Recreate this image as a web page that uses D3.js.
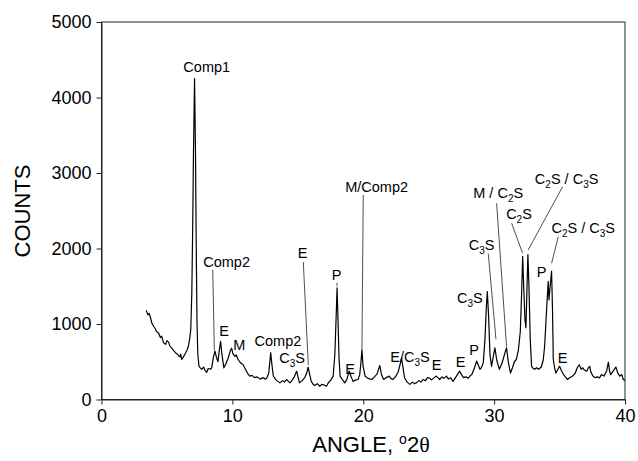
<!DOCTYPE html>
<html><head><meta charset="utf-8">
<script src="https://cdn.jsdelivr.net/npm/d3@7"></script>
<style>body{margin:0;background:#fff}svg{display:block}</style>
</head><body>
<svg id="c" width="638" height="461"></svg>
<script>
const angles = [3.42,3.55,3.65,3.75,3.85,3.98,4.1,4.2,4.36,4.5,4.6,4.74,4.9,5.0,5.12,5.25,5.37,5.5,5.65,5.8,5.9,6.0,6.05,6.13,6.26,6.4,6.55,6.64,6.75,6.82,6.9,6.97,7.03,7.11,7.18,7.24,7.3,7.36,7.45,7.55,7.66,7.8,7.9,8.04,8.15,8.3,8.42,8.55,8.67,8.78,8.9,9.0,9.1,9.2,9.35,9.5,9.7,9.85,9.94,10.05,10.2,10.3,10.44,10.6,10.82,11.0,11.15,11.33,11.5,11.7,11.9,
12.12,12.33,12.53,12.63,12.78,12.93,13.03,13.13,13.33,13.48,13.63,13.83,13.98,14.13,14.28,14.4,14.58,14.73,14.91,15.03,15.13,15.33,15.53,15.68,15.79,15.91,16.03,16.18,16.3,16.48,16.68,16.83,17.03,17.19,17.33,17.53,17.7,17.83,17.93,18.0,18.08,18.15,18.23,18.38,18.59,18.73,18.93,19.08,19.22,19.43,19.6,19.73,19.83,19.9,19.98,
20.14,20.36,20.64,20.86,21.06,21.26,21.41,21.56,21.76,21.99,22.11,22.26,22.46,22.66,22.81,22.93,23.04,23.16,23.36,23.56,23.76,23.91,24.06,24.26,24.41,24.56,24.76,24.91,25.06,25.21,25.36,25.56,25.71,25.84,26.01,26.16,26.35,26.51,26.66,26.86,27.01,27.16,27.36,27.51,27.66,27.86,28.01,
28.2,28.3,28.5,28.67,28.8,28.92,29.05,29.17,29.3,29.4,29.48,29.58,29.68,29.8,29.92,30.06,30.2,30.4,30.6,30.8,30.95,31.08,31.25,31.4,31.55,31.7,31.85,32.0,32.1,32.18,32.26,32.36,32.43,32.5,32.58,32.66,32.76,32.86,33.0,33.1,33.25,33.4,33.6,33.75,33.86,33.98,34.13,34.19,34.28,34.39,34.46,34.52,34.62,34.72,34.87,35.0,35.15,35.3,35.45,35.6,35.8,36.0,36.2,36.35,36.5,36.65,36.77,36.9,37.07,37.2,37.3,37.4,37.55,37.7,37.9,38.05,38.2,38.4,38.6,38.73,38.82,38.9,39.1,39.3,39.45,39.6,39.75,39.87,40.0];
const counts = [1180,1120,1140,1080,1010,970,940,900,880,820,840,750,730,780,760,700,680,650,620,600,580,565,600,530,565,610,660,705,820,925,1400,2300,3300,4250,3300,2000,1000,600,440,420,400,430,390,360,410,400,420,560,640,560,500,650,770,600,420,470,560,650,680,600,570,590,530,490,460,400,350,310,320,290,300,
270,290,270,285,350,620,450,310,260,240,220,250,230,265,240,220,260,300,375,290,220,250,290,350,430,330,240,200,185,210,175,200,190,175,220,260,310,600,1100,1480,1000,550,310,270,220,260,375,300,240,260,265,330,500,660,450,
310,280,265,300,340,450,320,265,290,310,280,265,300,360,460,550,420,285,230,200,230,210,220,250,230,265,250,290,285,260,280,310,290,265,300,280,310,270,290,240,280,320,375,330,290,300,280,
320,330,420,510,450,400,430,485,800,1200,1430,1100,600,440,550,685,520,400,480,600,685,500,350,420,500,530,650,900,1400,1895,1500,1050,950,1400,1920,1500,800,440,410,400,420,400,430,520,705,1100,1565,1320,1500,1700,1200,530,420,350,400,440,380,330,300,265,290,310,350,420,460,400,420,390,375,420,440,360,310,290,300,285,330,310,380,495,380,330,380,430,350,310,330,265,250];

const xTicks = [0,10,20,30,40];
const yTicks = [0,1000,2000,3000,4000,5000];

const labelTexts  = ["Comp1","Comp2","E","M","Comp2","C_3S","E","P","M/Comp2","E","E/C_3S","E","E","P","C_3S","C_3S","M / C_2S","C_2S","C_2S / C_3S","C_2S / C_3S","P","E"];
const labelAngles = [8.04,9.56,9.36,10.53,13.48,14.57,15.37,17.97,21.02,18.99,23.57,25.61,27.44,28.46,28.15,29.04,30.31,31.9,35.54,36.81,33.63,35.23];
const labelCounts = [4342,1759,841,656,710,480,1870,1583,2752,338,500,391,426,589,1274,1980,2665,2387,2850,2209,1627,479];

const leaderFromAngle = [8.5,15.42,18.0,20.0,29.55,30.19,31.34,35.23,34.9];
const leaderFromCount = [1722,1821,1545,2708,1935,2599,2334,2818,2156];
const leaderToAngle   = [8.62,15.8,18.0,19.9,30.14,30.95,32.18,32.6,34.39];
const leaderToCount   = [650,457,1500,670,800,700,1936,1980,1804];

const svg = d3.select("#c");
const x = d3.scaleLinear().domain([0,40]).range([101.5,625]);
const y = d3.scaleLinear().domain([0,5000]).range([399.5,22]);
const FONT = "'Liberation Sans', Arial, sans-serif";

// frame
svg.append("rect").attr("x",x(0)).attr("y",y(5000)).attr("width",x(40)-x(0)).attr("height",y(0)-y(5000))
  .attr("fill","none").attr("stroke","#222").attr("stroke-width",1);

const xa = svg.append("g").attr("transform",`translate(0,${y(0)})`)
  .call(d3.axisBottom(x).tickValues(xTicks).tickSize(5).tickSizeOuter(0).tickPadding(5).tickFormat(d3.format("d")));
const ya = svg.append("g").attr("transform",`translate(${x(0)},0)`)
  .call(d3.axisLeft(y).tickValues(yTicks).tickSize(5).tickSizeOuter(0).tickPadding(5).tickFormat(d3.format("d")));
[xa,ya].forEach(g=>{
  g.select(".domain").attr("stroke","#222");
  g.selectAll(".tick line").attr("stroke","#222");
  g.selectAll("text").attr("font-family",FONT).attr("font-size",18).attr("fill","#000");
});

// leader lines
svg.append("g").selectAll("line").data(leaderFromAngle).join("line")
  .attr("x1",(d,i)=>x(leaderFromAngle[i])).attr("y1",(d,i)=>y(leaderFromCount[i]))
  .attr("x2",(d,i)=>x(leaderToAngle[i])).attr("y2",(d,i)=>y(leaderToCount[i]))
  .attr("stroke","#222").attr("stroke-width",0.8);

// pattern
const line = d3.line().x((d,i)=>x(angles[i])).y((d,i)=>y(counts[i]));
svg.append("path").datum(angles).attr("d",line).attr("fill","none")
  .attr("stroke","#000").attr("stroke-width",1.2).attr("stroke-linejoin","round");

// labels (with subscripts)
const lg = svg.append("g").attr("font-family",FONT).attr("font-size",14.5).attr("fill","#000");
labelTexts.forEach((t,i)=>{
  const tx = lg.append("text").attr("x",x(labelAngles[i])).attr("y",y(labelCounts[i])).attr("text-anchor","middle");
  const parts = t.split(/(_\d)/).filter(p=>p.length);
  let shift = 0;
  parts.forEach(p=>{
    if(p[0]==="_"){
      tx.append("tspan").attr("font-size",10).attr("dy",4-shift).text(p.slice(1));
      shift = 4;
    } else {
      tx.append("tspan").attr("dy",-shift).text(p);
      shift = 0;
    }
  });
});

// axis titles
const xt = svg.append("text").attr("x",371).attr("y",452).attr("text-anchor","middle")
  .attr("font-family",FONT).attr("font-size",22);
xt.append("tspan").text("ANGLE, ");
xt.append("tspan").attr("font-size",14).attr("dy",-8).text("o");
xt.append("tspan").attr("dy",8).text("2");
xt.append("tspan").attr("font-family","'Liberation Serif', serif").text("θ");

svg.append("text").attr("transform","translate(30,211) rotate(-90)").attr("text-anchor","middle")
  .attr("font-family",FONT).attr("font-size",22).text("COUNTS");
</script>
</body></html>
